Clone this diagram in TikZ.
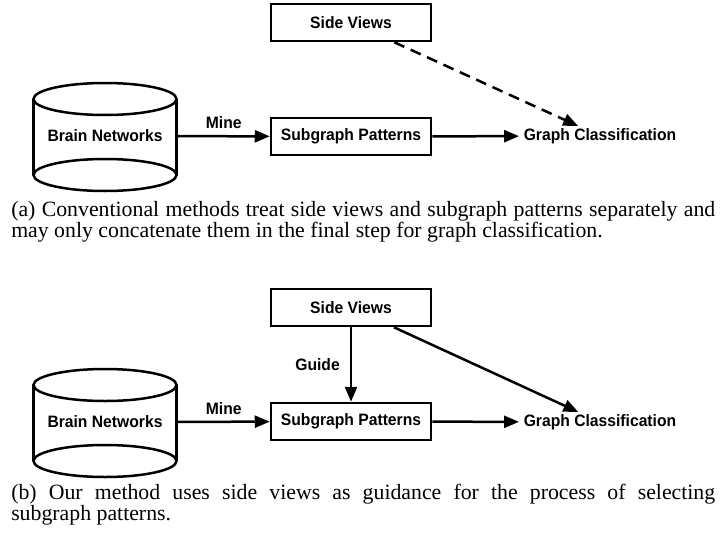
\documentclass[tikz,border=0pt]{standalone}
\usepackage{fontspec}
\setmainfont{Liberation Serif}
\newfontfamily\diagfont[FakeStretch=0.95]{Liberation Sans}
\usetikzlibrary{arrows.meta}
\begin{document}
\begin{tikzpicture}[x=1pt,y=-1pt,line width=2.5pt,
  dfont/.style={font=\diagfont\bfseries\fontsize{16.5}{18}\selectfont},
  box/.style={draw,dfont,minimum width=160pt,minimum height=37pt,inner sep=0pt},
  plain/.style={dfont,inner xsep=3.5pt,inner ysep=1pt},
  edgelbl/.style={dfont,inner sep=2pt},
  arr/.style={-{Triangle[length=15pt,width=12pt]}},
  captext/.style={text width=704pt,align=justify,anchor=base west,inner sep=0pt,font=\fontsize{21.8}{21.5}\selectfont}]
\useasboundingbox (0,0) rectangle (722,535);

% ---------- panel (a)
\draw (105,99) ellipse [x radius=71.5,y radius=16];
\draw (105,175) ellipse [x radius=71.5,y radius=16];
\draw (33.5,99) -- (33.5,175);
\draw (176.5,99) -- (176.5,175);
\node[dfont,minimum width=143pt,inner sep=0pt] (bnA) at (105,136) {Brain Networks};
\node[box] (svA) at (351,22.5) {Side Views};
\node[box] (spA) at (351,136.5) {Subgraph Patterns};
\node[plain] (gcA) at (600,136) {Graph Classification};
\draw[arr] (bnA) -- node[edgelbl,above=4pt] {Mine} (spA);
\draw[arr] (spA) -- (gcA);
\draw[arr,dash pattern=on 11pt off 7pt] (svA) -- (gcA);
\node[captext] (capA) at (10,216) {(a) Conventional methods treat side views and subgraph patterns separately and\linebreak may only concatenate them in the final step for graph classification.};

% ---------- panel (b)
\draw (105,385) ellipse [x radius=71.5,y radius=16];
\draw (105,461) ellipse [x radius=71.5,y radius=16];
\draw (33.5,385) -- (33.5,461);
\draw (176.5,385) -- (176.5,461);
\node[dfont,minimum width=143pt,inner sep=0pt] (bnB) at (105,422) {Brain Networks};
\node[box] (svB) at (351,307.5) {Side Views};
\node[box] (spB) at (351,421.5) {Subgraph Patterns};
\node[plain] (gcB) at (600,422) {Graph Classification};
\draw[arr] (bnB) -- node[edgelbl,above=4pt] {Mine} (spB);
\draw[arr] (spB) -- (gcB);
\draw[arr] (svB) -- (gcB);
\draw[arr] (svB) -- node[edgelbl,left=8pt] {Guide} (spB);
\node[captext] (capB) at (10,499) {(b) Our method uses side views as guidance for the process of selecting\linebreak subgraph patterns.};
\end{tikzpicture}
\end{document}
